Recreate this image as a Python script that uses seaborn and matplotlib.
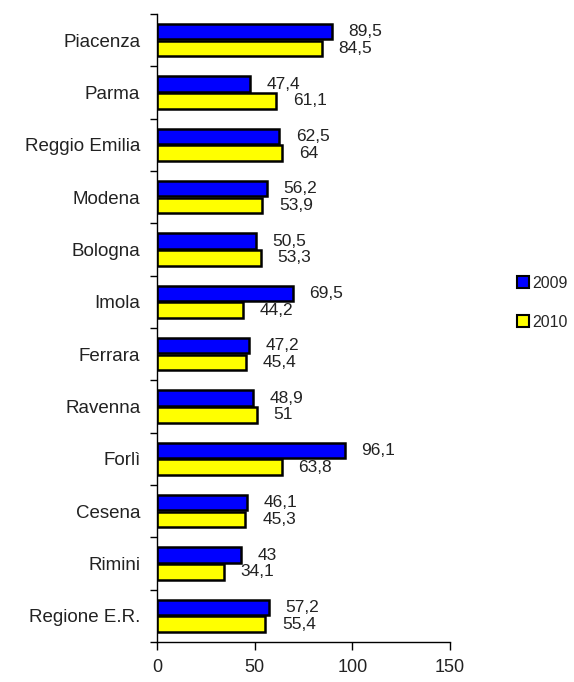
import matplotlib
matplotlib.use("Agg")
import matplotlib.pyplot as plt
import seaborn as sns
import pandas as pd
from matplotlib.patches import Patch
from matplotlib.ticker import FixedLocator

cities = ["Piacenza", "Parma", "Reggio Emilia", "Modena", "Bologna", "Imola",
          "Ferrara", "Ravenna", "Forlì", "Cesena", "Rimini", "Regione E.R."]
v2009 = [89.5, 47.4, 62.5, 56.2, 50.5, 69.5, 47.2, 48.9, 96.1, 46.1, 43, 57.2]
v2010 = [84.5, 61.1, 64, 53.9, 53.3, 44.2, 45.4, 51, 63.8, 45.3, 34.1, 55.4]
years = ["2009", "2010"]
colors = ["#0000FF", "#FFFF00"]
xticks = [0, 50, 100, 150]

df = pd.DataFrame({
    "city": cities * 2,
    "value": v2009 + v2010,
    "year": [years[0]] * len(cities) + [years[1]] * len(cities),
})

sns.set_style("white")
plt.rcParams["font.family"] = ["Liberation Sans", "DejaVu Sans"]

fig = plt.figure(figsize=(5.74, 6.82), dpi=100)
ax = fig.add_axes([0.2735, 0.0587, 0.784 - 0.2735, 0.9795 - 0.0587])

sns.barplot(data=df, y="city", x="value", hue="year", orient="h",
            palette=colors, saturation=1, edgecolor="black", linewidth=1.8,
            width=0.64, gap=0.08, ax=ax, legend=False)

def fmt(v):
    s = f"{v:g}"
    return s.replace(".", ",")

for cont in ax.containers:
    ax.bar_label(cont, labels=[fmt(b.get_width()) for b in cont],
                 padding=12, fontsize=12.5, color="#222222")

ax.set_xlim(0, 150)
ax.set_ylim(len(cities) - 0.5, -0.5)
ax.set_xticks(xticks)
ax.set_xticklabels([str(t) for t in xticks], fontsize=13, color="#222222")
ax.set_yticks(range(len(cities)))
ax.set_yticklabels(cities, fontsize=13.5, color="#222222")
ax.yaxis.set_minor_locator(FixedLocator([i - 0.5 for i in range(len(cities) + 1)]))
ax.tick_params(axis="y", which="major", length=0, pad=12)
ax.tick_params(axis="y", which="minor", length=5, width=1, color="black", direction="out", left=True)
ax.tick_params(axis="x", which="major", length=6, width=1, color="black", direction="out", bottom=True, pad=6)
ax.set_xlabel("")
ax.set_ylabel("")
for s in ["top", "right"]:
    ax.spines[s].set_visible(False)
for s in ["left", "bottom"]:
    ax.spines[s].set_color("black")
    ax.spines[s].set_linewidth(1)

handles = [Patch(facecolor=c, edgecolor="black", linewidth=1.5) for c in colors]
fig.legend(handles, years, loc="center left", bbox_to_anchor=(0.875, 0.556),
           frameon=False, fontsize=11.5, handlelength=0.75, handleheight=0.75,
           handletextpad=0.2, labelspacing=1.5)

fig.savefig("out.png", dpi=100)
